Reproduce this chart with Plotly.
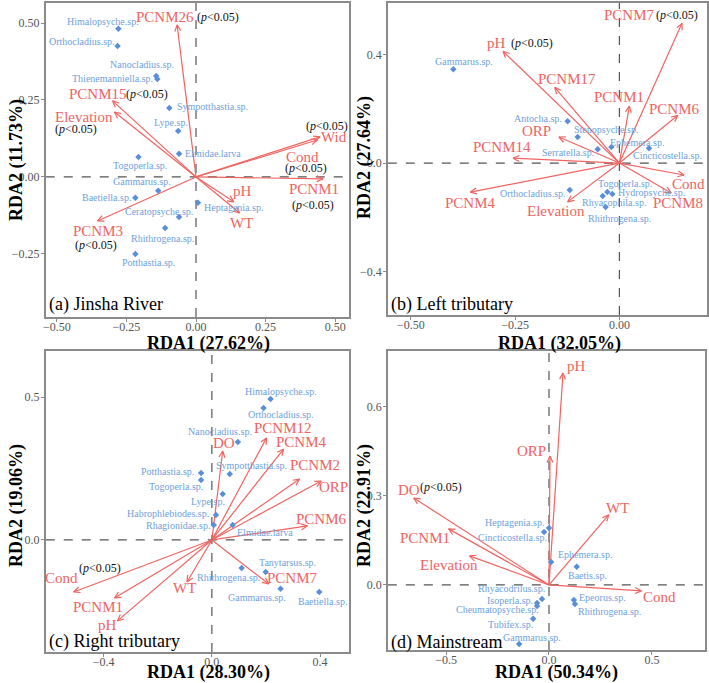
import math
import plotly.graph_objects as go

# ---------------- data ----------------
# (a) Jinsha River
a_species = ["Himalopsyche.sp.", "Orthocladius.sp.", "Nanocladius.sp.", "Thienemanniella.sp.",
             "Sympotthastia.sp.", "Lype.sp.", "Elmidae.larva", "Togoperla.sp.", "Gammarus.sp.",
             "Baetiella.sp.", "Ceratopsyche.sp.", "Heptagenia.sp.", "Rhithrogena.sp.", "Potthastia.sp."]
a_sp_rda1 = [-0.279, -0.282, -0.143, -0.139, -0.096, -0.064, -0.061, -0.207, -0.136, -0.218, -0.061, 0.007, -0.111, -0.218]
a_sp_rda2 = [0.481, 0.425, 0.328, 0.318, 0.224, 0.149, 0.075, 0.065, -0.045, -0.068, -0.130, -0.084, -0.166, -0.250]
a_env = ["PCNM26", "PCNM15", "Elevation", "Wid", "Cond", "PCNM1", "pH", "WT", "PCNM3"]
a_env_rda1 = [-0.068, -0.300, -0.293, 0.446, 0.436, 0.457, 0.136, 0.157, -0.354]
a_env_rda2 = [0.494, 0.247, 0.211, 0.130, 0.120, -0.006, -0.081, -0.117, -0.143]
a_sig = ["PCNM26", "PCNM15", "Elevation", "Wid", "Cond", "PCNM1", "PCNM3"]

# (b) Left tributary
b_species = ["Gammarus.sp.", "Antocha.sp.", "Stenopsyche.sp.", "Serratella.sp.", "Ephemera.sp.",
             "Cincticostella.sp.", "Orthocladius.sp.", "Togoperla.sp.", "Hydropsyche.sp.",
             "Rhyacophila.sp.", "Rhithrogena.sp."]
b_sp_rda1 = [-0.398, -0.124, -0.100, -0.052, -0.019, 0.071, -0.119, -0.029, -0.017, -0.040, -0.033]
b_sp_rda2 = [0.346, 0.154, 0.096, 0.051, 0.059, 0.055, -0.099, -0.107, -0.114, -0.121, -0.162]
b_env = ["pH", "PCNM7", "PCNM17", "PCNM1", "PCNM6", "ORP", "PCNM14", "PCNM4", "Elevation", "Cond", "PCNM8"]
b_env_rda1 = [-0.279, 0.150, -0.155, 0.024, 0.140, -0.145, -0.255, -0.357, -0.124, 0.155, 0.124]
b_env_rda2 = [0.412, 0.515, 0.279, 0.210, 0.176, 0.096, 0.018, -0.107, -0.143, -0.044, -0.110]
b_sig = ["pH", "PCNM7"]

# (c) Right tributary
c_species = ["Himalopsyche.sp.", "Orthocladius.sp.", "Nanocladius.sp.", "Sympotthastia.sp.",
             "Potthastia.sp.", "Togoperla.sp.", "Lype.sp.", "Habrophlebiodes.sp.", "Rhagionidae.sp.",
             "Elmidae.larva", "Tanytarsus.sp.", "Rhithrogena.sp.", "Gammarus.sp.", "Baetiella.sp."]
c_sp_rda1 = [0.217, 0.191, 0.096, 0.066, -0.040, -0.040, 0.040, 0.015, 0.007, 0.077, 0.199, 0.110, 0.254, 0.397]
c_sp_rda2 = [0.493, 0.462, 0.343, 0.231, 0.234, 0.210, 0.161, 0.087, 0.052, 0.052, -0.112, -0.098, -0.171, -0.182]
c_env = ["DO", "PCNM12", "PCNM4", "PCNM2", "ORP", "PCNM6", "PCNM7", "WT", "Cond", "PCNM1", "pH"]
c_env_rda1 = [0.040, 0.202, 0.265, 0.324, 0.404, 0.353, 0.210, -0.092, -0.511, -0.360, -0.349]
c_env_rda2 = [0.311, 0.357, 0.318, 0.213, 0.206, 0.049, -0.154, -0.147, -0.182, -0.203, -0.283]
c_sig = ["Cond"]

# (d) Mainstream
d_species = ["Heptagenia.sp.", "Cincticostella.sp.", "Ephemera.sp.", "Baetis.sp.", "Rhyacodrilus.sp.",
             "Isoperla.sp.", "Cheumatopsyche.sp.", "Tubifex.sp.", "Gammarus.sp.", "Epeorus.sp.",
             "Rhithrogena.sp."]
d_sp_rda1 = [0.000, -0.024, 0.010, 0.135, -0.034, -0.058, -0.058, -0.077, -0.145, 0.121, 0.126]
d_sp_rda2 = [0.192, 0.178, 0.077, 0.061, -0.047, -0.061, -0.071, -0.114, -0.199, -0.051, -0.064]
d_env = ["pH", "ORP", "WT", "DO", "PCNM1", "Elevation", "Cond"]
d_env_rda1 = [0.068, 0.005, 0.290, -0.657, -0.488, -0.386, 0.449]
d_env_rda2 = [0.714, 0.434, 0.236, 0.293, 0.189, 0.098, -0.020]
d_sig = ["DO"]

titles = ["(a) Jinsha River", "(b) Left tributary", "(c) Right tributary", "(d) Mainstream"]
rda1_pct = ["27.62", "32.05", "28.30", "50.34"]
rda2_pct = ["11.73", "27.64", "19.06", "22.91"]

# ---------------- layout / label placement (pixel offsets) ----------------
W, H = 709, 683
RED = "#EF6461"
BLUE_T = "#6E9FDC"
BLUE_P = "#5A8ED8"
FONT = "Liberation Serif"

a_sp_off = [(-15, -7), (-36, -5), (-14, -11), (-45, -1), (43, -1), (-7, -9), (34, 0), (2, 9),
            (-16, -9), (-29, 0), (-20, -5), (36, 5), (-3, 10), (13, 9)]
a_env_off = [(-12, -8), (-15, -7), (-30, 5), (14, 0), (-15, 17), (-9, 10), (9, -11), (2, 10), (0, 10)]
a_p_off = {"PCNM26": (41, -8), "PCNM15": (34, -7), "Elevation": (-38, 17), "Wid": (7, -11),
           "Cond": (-11, 28), "PCNM1": (-10, 26), "PCNM3": (-2, 24)}

b_sp_off = [(11, -8), (-30, -3), (28, -8), (-30, 3), (26, -5), (18, 7), (-37, 4), (18, -9),
            (39, -1), (11, 7), (14, 11)]
b_env_off = [(-6, -8), (-52, -8), (12, -8), (-10, -9), (-3, -6), (-22, -6), (-11, -11), (0, 11),
             (-12, 9), (4, 9), (7, 10)]
b_p_off = {"pH": (29, -8), "PCNM7": (-5, -8)}

c_sp_off = [(10, -8), (17, 7), (-18, -10), (22, -8), (-34, -2), (-25, 7), (-15, 8), (-48, -2),
            (-36, 0), (32, 7), (22, -9), (-13, 10), (-24, 9), (3, 10)]
c_env_off = [(1, -8), (16, -10), (18, -7), (15, -14), (12, 6), (14, -7), (24, -6), (-2, 6),
             (-12, -14), (-16, 9), (-10, 4)]
c_p_off = {"Cond": (26, -24)}

d_sp_off = [(-34, -5), (-32, 5), (34, -8), (11, 9), (-30, -10), (-27, -3), (-40, 3), (-23, 6),
            (13, -7), (29, -3), (35, 8)]
d_env_off = [(14, -7), (-19, -5), (9, -7), (-5, -8), (-24, 9), (-21, 9), (18, 6)]
d_p_off = {"DO": (27, -11)}

panels = [
    dict(px=(43, 348), py=(3, 317), xr=(-0.54, 0.55), yr=(-0.455, 0.565),
         xt=[-0.5, -0.25, 0, 0.25, 0.5], xf=".2f", yt=[-0.25, 0, 0.25, 0.5], yf=".2f",
         sp=(a_species, a_sp_rda1, a_sp_rda2, a_sp_off), env=(a_env, a_env_rda1, a_env_rda2, a_env_off),
         sig=a_sig, poff=a_p_off, xtitle_c=(207, 343), ytitle_c=(13, 160), lab=(44, 305)),
    dict(px=(387, 708), py=(3, 315), xr=(-0.555, 0.21), yr=(-0.56, 0.59),
         xt=[-0.5, -0.25, 0], xf=".2f", yt=[-0.4, 0, 0.4], yf=".1f",
         sp=(b_species, b_sp_rda1, b_sp_rda2, b_sp_off), env=(b_env, b_env_rda1, b_env_rda2, b_env_off),
         sig=b_sig, poff=b_p_off, xtitle_c=(560, 343), ytitle_c=(363, 157), lab=(388, 305)),
    dict(px=(43, 348), py=(351, 652), xr=(-0.614, 0.507), yr=(-0.392, 0.661),
         xt=[-0.4, 0, 0.4], xf=".1f", yt=[0, 0.5], yf=".1f",
         sp=(c_species, c_sp_rda1, c_sp_rda2, c_sp_off), env=(c_env, c_env_rda1, c_env_rda2, c_env_off),
         sig=c_sig, poff=c_p_off, xtitle_c=(207, 672), ytitle_c=(13, 505), lab=(44, 641)),
    dict(px=(387, 706), py=(351, 650), xr=(-0.783, 0.758), yr=(-0.219, 0.788),
         xt=[-0.5, 0, 0.5], xf=".1f", yt=[0, 0.3, 0.6], yf=".1f",
         sp=(d_species, d_sp_rda1, d_sp_rda2, d_sp_off), env=(d_env, d_env_rda1, d_env_rda2, d_env_off),
         sig=d_sig, poff=d_p_off, xtitle_c=(557, 672), ytitle_c=(363, 505), lab=(388, 642)),
]

fig = go.Figure()
annotations = []
shapes = []

for i, p in enumerate(panels):
    k = "" if i == 0 else str(i + 1)
    xa, ya = "x" + k, "y" + k
    x0p, x1p = p["px"]
    y0p, y1p = p["py"]
    sx = (x1p - x0p) / (p["xr"][1] - p["xr"][0])
    sy = (y1p - y0p) / (p["yr"][1] - p["yr"][0])

    axcommon = dict(showgrid=False, zeroline=False, showline=True, mirror=True, linecolor="#8a8a8a",
                    linewidth=1.5, ticks="outside", ticklen=3, tickcolor="#8a8a8a",
                    tickfont=dict(family=FONT, size=12, color="#555555"))
    fig.update_layout(**{
        ("xaxis" + k): dict(domain=[x0p / W, x1p / W], range=list(p["xr"]), tickvals=p["xt"],
                            tickformat=p["xf"], anchor=ya, ticklabelstandoff=-5, **axcommon),
        ("yaxis" + k): dict(domain=[1 - y1p / H, 1 - y0p / H], range=list(p["yr"]), tickvals=p["yt"],
                            tickformat=p["yf"], anchor=xa, ticklabelstandoff=-1, **axcommon),
    })

    # dashed zero lines
    shapes.append(dict(type="line", xref=xa, yref=ya + " domain", x0=0, x1=0, y0=0, y1=1,
                       line=dict(color="#555555", width=1.2, dash="dash"), layer="below"))
    shapes.append(dict(type="line", xref=xa + " domain", yref=ya, x0=0, x1=1, y0=0, y1=0,
                       line=dict(color="#555555", width=1.2, dash="dash"), layer="below"))

    # arrows (shaft + open head)
    names, ex, ey, eoff = p["env"]
    lx, ly = [], []
    L, ang = 7.0, math.radians(25)
    for xv, yv in zip(ex, ey):
        dxp, dyp = xv * sx, yv * sy
        n = math.hypot(dxp, dyp)
        ux, uy = dxp / n, dyp / n
        lx += [0, xv, None]
        ly += [0, yv, None]
        for s in (1, -1):
            ca, sa = math.cos(s * ang), math.sin(s * ang)
            rx = ux * ca - uy * sa
            ry = ux * sa + uy * ca
            lx += [xv - L * rx / sx, xv, None]
            ly += [yv - L * ry / sy, yv, None]
    fig.add_trace(go.Scatter(x=lx, y=ly, mode="lines", line=dict(color=RED, width=1.2),
                             xaxis=xa, yaxis=ya, hoverinfo="skip", showlegend=False))

    # species points
    sn, sxv, syv, soff = p["sp"]
    fig.add_trace(go.Scatter(x=sxv, y=syv, mode="markers",
                             marker=dict(symbol="diamond", size=5, color=BLUE_P),
                             xaxis=xa, yaxis=ya, text=sn, hoverinfo="text", showlegend=False))
    for name, xv, yv, (dx, dy) in zip(sn, sxv, syv, soff):
        annotations.append(dict(x=xv, y=yv, xref=xa, yref=ya, text=name, showarrow=False,
                                xshift=dx, yshift=-dy, xanchor="center", yanchor="middle",
                                font=dict(family=FONT, size=10, color=BLUE_T)))

    for name, xv, yv, (dx, dy) in zip(names, ex, ey, eoff):
        annotations.append(dict(x=xv, y=yv, xref=xa, yref=ya, text=name, showarrow=False,
                                xshift=dx, yshift=-dy, xanchor="center", yanchor="middle",
                                font=dict(family=FONT, size=15, color=RED)))
        if name in p["sig"]:
            pdx, pdy = p["poff"][name]
            annotations.append(dict(x=xv, y=yv, xref=xa, yref=ya, text="(<i>p</i>&lt;0.05)",
                                    showarrow=False, xshift=pdx, yshift=-pdy, xanchor="center",
                                    yanchor="middle", font=dict(family=FONT, size=12, color="#111111")))

    # axis titles
    cx, cy = p["xtitle_c"]
    annotations.append(dict(x=cx / W, y=1 - cy / H, xref="paper", yref="paper",
                            text="<b>RDA1 (" + rda1_pct[i] + "%)</b>", showarrow=False,
                            xanchor="center", yanchor="middle", font=dict(family=FONT, size=18, color="black")))
    cx, cy = p["ytitle_c"]
    annotations.append(dict(x=cx / W, y=1 - cy / H, xref="paper", yref="paper",
                            text="<b>RDA2 (" + rda2_pct[i] + "%)</b>", showarrow=False, textangle=-90,
                            xanchor="center", yanchor="middle", font=dict(family=FONT, size=18, color="black")))
    # panel label
    lx0, ly0 = p["lab"]
    annotations.append(dict(x=lx0 / W, y=1 - ly0 / H, xref="paper", yref="paper", text=titles[i],
                            showarrow=False, xanchor="left", yanchor="middle",
                            font=dict(family=FONT, size=18, color="black")))

fig.update_layout(width=W, height=H, margin=dict(l=0, r=0, t=0, b=0), paper_bgcolor="white",
                  plot_bgcolor="white", showlegend=False, annotations=annotations, shapes=shapes)

fig.write_html("out.html")
